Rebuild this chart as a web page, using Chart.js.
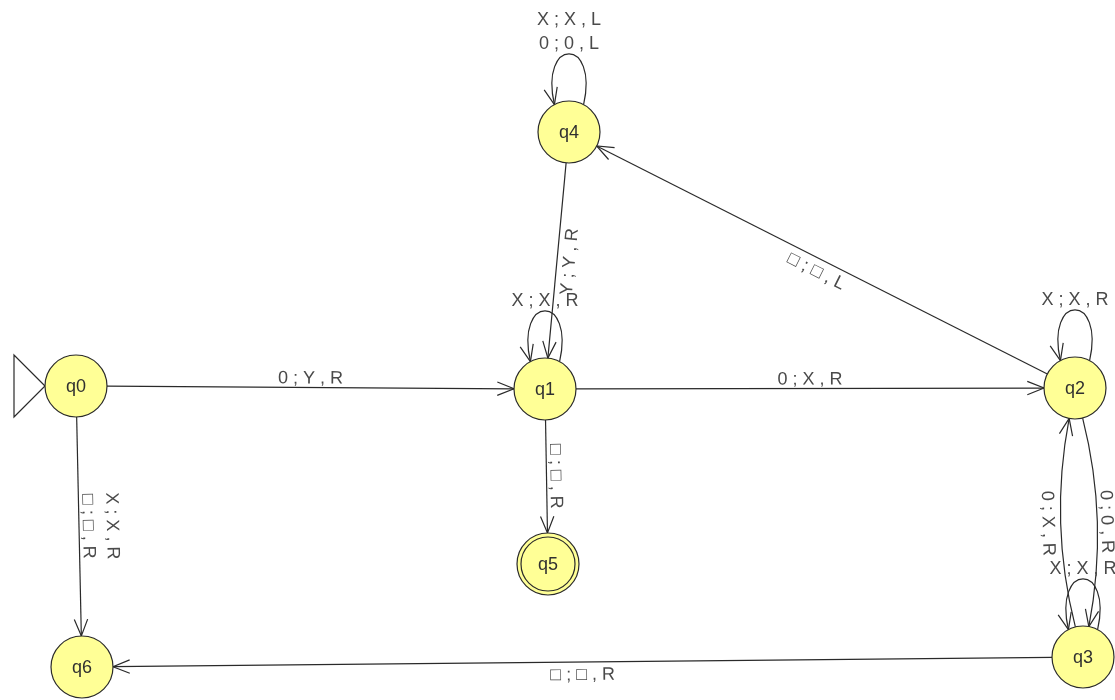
<!DOCTYPE html>
<html>
<head>
<meta charset="utf-8">
<script src="https://cdn.jsdelivr.net/npm/chart.js@4.4.1/dist/chart.umd.min.js"></script>
<style>
  body { margin: 0; background: #fff; }
  #wrap { width: 1115px; height: 700px; }
</style>
</head>
<body>
<div id="wrap"><canvas id="diagram" width="1115" height="700"></canvas></div>
<script>
// states of the machine (position in diagram units)
const stateNames = ["q0", "q1", "q2", "q3", "q4", "q5", "q6"];
const stateX = [76, 545, 1075, 1083, 569, 548, 82];
const stateY = [386, 389, 388, 657, 132, 564, 667];
const initialState = "q0";
const finalStates = ["q5"];

// transitions between two different states
const edgeFrom = ["q0", "q1", "q1", "q4", "q2", "q2", "q3", "q0", "q3"];
const edgeTo = ["q1", "q2", "q5", "q1", "q4", "q3", "q2", "q6", "q6"];
const edgeLabels = [
  ["0 ; Y , R"],
  ["0 ; X , R"],
  ["□ ; □ , R"],
  ["Y ; Y , R"],
  ["□ ; □ , L"],
  ["0 ; 0 , R"],
  ["0 ; X , R"],
  ["X ; X , R", "□ ; □ , R"],
  ["□ ; □ , R"],
];

// self loops
const loopStates = ["q4", "q1", "q2", "q3"];
const loopLabels = [["X ; X , L", "0 ; 0 , L"], ["X ; X , R"], ["X ; X , R"], ["X ; X , R"]];

const RADIUS = 31;
const STATE_FILL = "rgb(255, 255, 150)";
const LINE_COLOR = "#2a2a2a";
const TEXT_COLOR = "#4a4a4a";
const LABEL_FONT = '18px "Liberation Sans", Arial, sans-serif';
const LINE_HEIGHT = 24;

function pos(chart, name) {
  const i = stateNames.indexOf(name);
  return {
    x: chart.scales.x.getPixelForValue(stateX[i]),
    y: chart.scales.y.getPixelForValue(stateY[i]),
  };
}

function unit(dx, dy) {
  const l = Math.hypot(dx, dy) || 1;
  return { x: dx / l, y: dy / l };
}

function arrowHead(ctx, tip, dir) {
  const len = 18;
  const spread = 0.38;
  const a = Math.atan2(dir.y, dir.x);
  ctx.beginPath();
  ctx.moveTo(tip.x - len * Math.cos(a - spread), tip.y - len * Math.sin(a - spread));
  ctx.lineTo(tip.x, tip.y);
  ctx.lineTo(tip.x - len * Math.cos(a + spread), tip.y - len * Math.sin(a + spread));
  ctx.stroke();
}

function edgeText(ctx, mid, dx, dy, lines) {
  const flip = dx < 0;
  let angle = Math.atan2(dy, dx);
  if (flip) angle += Math.PI;
  ctx.save();
  ctx.translate(mid.x, mid.y);
  ctx.rotate(angle);
  ctx.textAlign = "center";
  const n = lines.length;
  lines.forEach((txt, i) => {
    if (!flip) {
      ctx.textBaseline = "alphabetic";
      ctx.fillText(txt, 0, -4 - (n - 1 - i) * LINE_HEIGHT);
    } else {
      ctx.textBaseline = "top";
      ctx.fillText(txt, 0, 4 + i * LINE_HEIGHT);
    }
  });
  ctx.restore();
}

const diagramPlugin = {
  id: "diagram",
  beforeDatasetsDraw(chart) {
    const ctx = chart.ctx;
    ctx.save();
    ctx.strokeStyle = LINE_COLOR;
    ctx.lineWidth = 1.2;
    ctx.fillStyle = TEXT_COLOR;
    ctx.font = LABEL_FONT;

    // edges between states
    edgeFrom.forEach((from, i) => {
      const to = edgeTo[i];
      const s = pos(chart, from);
      const e = pos(chart, to);
      const dx = e.x - s.x;
      const dy = e.y - s.y;
      const len = Math.hypot(dx, dy);
      let c = { x: (s.x + e.x) / 2, y: (s.y + e.y) / 2 };
      const hasReverse = edgeFrom.some((f, j) => f === to && edgeTo[j] === from);
      if (hasReverse) {
        const bend = 30;
        c = { x: c.x + (dy / len) * bend, y: c.y - (dx / len) * bend };
      }
      const u1 = unit(c.x - s.x, c.y - s.y);
      const u2 = unit(c.x - e.x, c.y - e.y);
      const p1 = { x: s.x + u1.x * RADIUS, y: s.y + u1.y * RADIUS };
      const p2 = { x: e.x + u2.x * RADIUS, y: e.y + u2.y * RADIUS };
      ctx.beginPath();
      ctx.moveTo(p1.x, p1.y);
      ctx.quadraticCurveTo(c.x, c.y, p2.x, p2.y);
      ctx.stroke();
      arrowHead(ctx, p2, { x: -u2.x, y: -u2.y });
      const mid = {
        x: 0.25 * p1.x + 0.5 * c.x + 0.25 * p2.x,
        y: 0.25 * p1.y + 0.5 * c.y + 0.25 * p2.y,
      };
      edgeText(ctx, mid, dx, dy, edgeLabels[i]);
    });

    // self loops
    loopStates.forEach((name, i) => {
      const p = pos(chart, name);
      const a = 0.49;
      const right = { x: p.x + RADIUS * Math.sin(a), y: p.y - RADIUS * Math.cos(a) };
      const left = { x: p.x - RADIUS * Math.sin(a), y: p.y - RADIUS * Math.cos(a) };
      const c1 = { x: p.x + 30, y: p.y - 95 };
      const c2 = { x: p.x - 30, y: p.y - 95 };
      ctx.beginPath();
      ctx.moveTo(right.x, right.y);
      ctx.bezierCurveTo(c1.x, c1.y, c2.x, c2.y, left.x, left.y);
      ctx.stroke();
      arrowHead(ctx, left, unit(left.x - c2.x, left.y - c2.y));
      const top = p.y - 78;
      const lines = loopLabels[i];
      ctx.textAlign = "center";
      ctx.textBaseline = "alphabetic";
      lines.forEach((txt, k) => {
        ctx.fillText(txt, p.x, top - 5 - (lines.length - 1 - k) * LINE_HEIGHT);
      });
    });

    // start marker
    const s0 = pos(chart, initialState);
    ctx.beginPath();
    ctx.moveTo(s0.x - RADIUS, s0.y);
    ctx.lineTo(s0.x - 2 * RADIUS, s0.y - RADIUS);
    ctx.lineTo(s0.x - 2 * RADIUS, s0.y + RADIUS);
    ctx.closePath();
    ctx.fillStyle = "#fff";
    ctx.fill();
    ctx.stroke();
    ctx.restore();
  },
  afterDatasetsDraw(chart) {
    const ctx = chart.ctx;
    ctx.save();
    ctx.fillStyle = "#303030";
    ctx.font = '18px "Liberation Sans", Arial, sans-serif';
    ctx.textAlign = "center";
    ctx.textBaseline = "middle";
    stateNames.forEach((name) => {
      const p = pos(chart, name);
      ctx.fillText(name, p.x, p.y + 1);
    });
    ctx.restore();
  },
};

const stateData = stateNames.map((n, i) => ({ x: stateX[i], y: stateY[i] }));
const finalData = finalStates.map((n) => {
  const i = stateNames.indexOf(n);
  return { x: stateX[i], y: stateY[i] };
});

new Chart(document.getElementById("diagram"), {
  type: "scatter",
  data: {
    datasets: [
      {
        data: finalData,
        order: 0,
        pointRadius: RADIUS - 4,
        pointHoverRadius: RADIUS - 4,
        backgroundColor: STATE_FILL,
        borderColor: LINE_COLOR,
        borderWidth: 1.2,
        clip: false,
      },
      {
        data: stateData,
        order: 1,
        pointRadius: RADIUS,
        pointHoverRadius: RADIUS,
        backgroundColor: STATE_FILL,
        borderColor: LINE_COLOR,
        borderWidth: 1.2,
        clip: false,
      },
    ],
  },
  options: {
    responsive: false,
    animation: false,
    events: [],
    layout: { padding: 0, autoPadding: false },
    plugins: { legend: { display: false }, tooltip: { enabled: false } },
    scales: {
      x: { type: "linear", min: 0, max: 1115, display: false },
      y: { type: "linear", min: 0, max: 700, reverse: true, display: false },
    },
  },
  plugins: [diagramPlugin],
});
</script>
</body>
</html>
